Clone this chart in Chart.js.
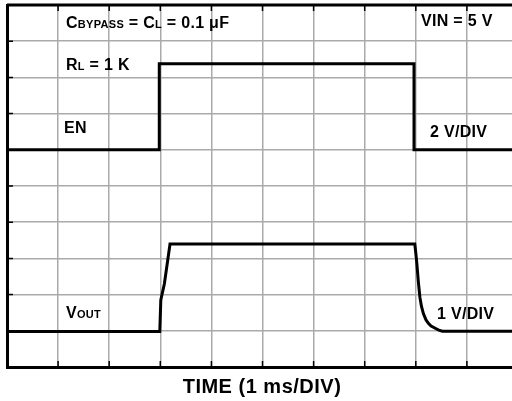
<!DOCTYPE html>
<html>
<head>
<meta charset="utf-8">
<script src="https://cdn.jsdelivr.net/npm/chart.js@4/dist/chart.umd.min.js"></script>
<style>
  html, body { margin: 0; padding: 0; background: #fff; overflow: hidden; }
  #wrap { position: relative; width: 525px; height: 401px; }
</style>
</head>
<body>
<div id="wrap"><canvas id="c"></canvas></div>
<script>
// Time axis in divisions (1 ms/DIV), 10 divisions
const gridDivisions = [0, 1, 2, 3, 4, 5, 6, 7, 8, 9, 10];

// EN trace (2 V/DIV), position in screen divisions
const enTime  = [0, 2.98, 2.98, 7.965, 7.965, 10];
const enLevel = [6, 6, 8.38, 8.38, 6, 6];

// VOUT trace (1 V/DIV), position in screen divisions
const voutTime  = [0, 2.99, 3.01, 3.08, 3.19, 7.98, 8.0, 8.02, 8.05, 8.08, 8.11, 8.15, 8.2, 8.25, 8.3, 8.38, 8.45, 8.52, 10];
const voutLevel = [0.98, 0.98, 1.85, 2.3, 3.40, 3.40, 3.15, 2.86, 2.35, 1.93, 1.68, 1.47, 1.3, 1.2, 1.13, 1.07, 1.02, 0.99, 0.99];

// Annotation texts
const labelCbypass = [["C", 16], ["BYPASS", 11], [" = C", 16], ["L", 11], [" = 0.1 μF", 16]];
const labelRl = [["R", 16], ["L", 11], [" = 1 K", 16]];
const labelEn = [["EN", 16]];
const labelVin = [["VIN = 5 V", 16]];
const labelEnScale = [["2 V/DIV", 16]];
const labelVout = [["V", 16], ["OUT", 11]];
const labelVoutScale = [["1 V/DIV", 16]];
const axisTitle = "TIME (1 ms/DIV)";

const toPoints = (xs, ys) => xs.map((v, i) => ({ x: v, y: ys[i] }));

const FONT = '"Liberation Sans", Arial, sans-serif';

function drawRich(ctx, x, y, parts) {
  let cx = x;
  for (const [t, s] of parts) {
    ctx.font = `bold ${s}px ${FONT}`;
    ctx.fillText(t, cx, y);
    cx += ctx.measureText(t).width;
  }
}

const scopePlugin = {
  id: 'scope',
  afterDraw(chart) {
    const { ctx, chartArea: { left, top, right, bottom }, scales: { x, y } } = chart;
    ctx.save();
    ctx.strokeStyle = '#000';
    ctx.lineWidth = 3;
    ctx.beginPath();
    ctx.moveTo(left, top); ctx.lineTo(right, top);
    ctx.moveTo(right, top); ctx.lineTo(right, bottom);
    ctx.stroke();
    // inner ticks
    ctx.lineWidth = 1.5;
    ctx.beginPath();
    for (let i = 1; i < gridDivisions.length - 1; i++) {
      const px = x.getPixelForValue(gridDivisions[i]);
      ctx.moveTo(px, top); ctx.lineTo(px, top + 6);
      ctx.moveTo(px, bottom); ctx.lineTo(px, bottom - 6);
      const py = y.getPixelForValue(gridDivisions[i]);
      ctx.moveTo(left, py); ctx.lineTo(left + 6, py);
      ctx.moveTo(right, py); ctx.lineTo(right - 6, py);
    }
    ctx.stroke();

    // texts
    ctx.fillStyle = '#000';
    ctx.textBaseline = 'alphabetic';
    ctx.textAlign = 'left';
    ctx.letterSpacing = '0.3px';
    drawRich(ctx, 66, 28, labelCbypass);
    drawRich(ctx, 66, 70, labelRl);
    drawRich(ctx, 64, 133, labelEn);
    drawRich(ctx, 421, 26, labelVin);
    drawRich(ctx, 430, 137, labelEnScale);
    drawRich(ctx, 66, 318, labelVout);
    drawRich(ctx, 437, 319, labelVoutScale);

    ctx.textAlign = 'center';
    ctx.letterSpacing = '0.5px';
    ctx.font = `bold 20px ${FONT}`;
    ctx.fillText(axisTitle, 262, 393);
    ctx.restore();
  }
};

new Chart(document.getElementById('c'), {
  type: 'line',
  data: {
    datasets: [
      { label: 'EN', data: toPoints(enTime, enLevel), borderColor: '#000', borderWidth: 3, pointRadius: 0, tension: 0, fill: false },
      { label: 'VOUT', data: toPoints(voutTime, voutLevel), borderColor: '#000', borderWidth: 3, pointRadius: 0, tension: 0, fill: false }
    ]
  },
  options: {
    responsive: true,
    maintainAspectRatio: false,
    animation: false,
    devicePixelRatio: 1,
    layout: { padding: { left: 7, top: 5, right: 7, bottom: 0 } },
    plugins: { legend: { display: false }, tooltip: { enabled: false }, title: { display: false } },
    scales: {
      x: {
        type: 'linear', min: 0, max: 10,
        ticks: { stepSize: 1, display: false },
        grid: { color: '#aaaaaa', lineWidth: 1.5, drawTicks: false },
        border: { display: true, color: '#000', width: 3 },
        afterFit: (s) => { s.height = 34; }
      },
      y: {
        type: 'linear', min: 0, max: 10,
        ticks: { stepSize: 1, display: false },
        grid: { color: '#aaaaaa', lineWidth: 1.5, drawTicks: false },
        border: { display: true, color: '#000', width: 3 },
        afterFit: (s) => { s.width = 0; }
      }
    }
  },
  plugins: [scopePlugin]
});
</script>
</body>
</html>
